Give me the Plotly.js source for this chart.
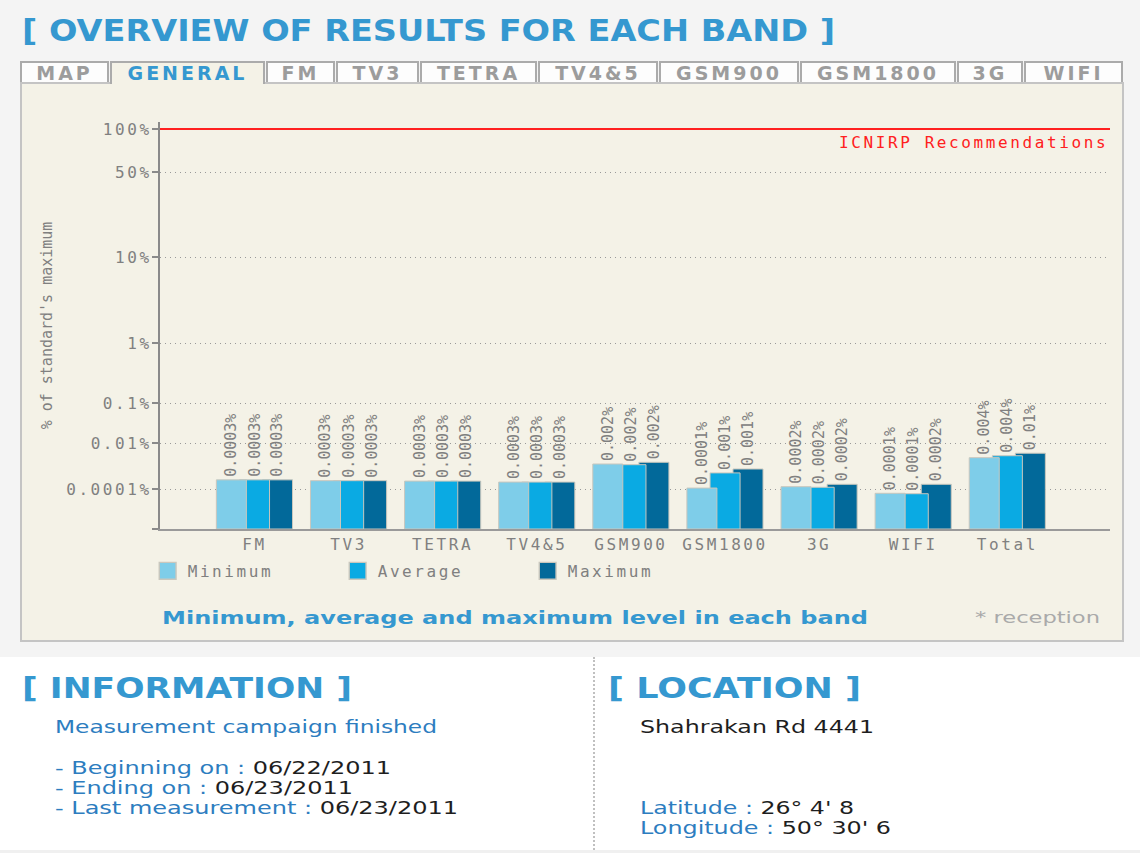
<!DOCTYPE html>
<html>
<head>
<meta charset="utf-8">
<script src="https://cdn.plot.ly/plotly-3.0.1.min.js"></script>
<style>
body { margin: 0; background: #fff; font-family: "DejaVu Sans", sans-serif; }
#page { position: relative; width: 1140px; height: 853px; overflow: hidden; background: #fff; }
#top { position: absolute; left: 0; top: 0; width: 1140px; height: 657px; background: #f4f4f4; }
#bottomline { position: absolute; left: 0; top: 850px; width: 1140px; height: 3px; background: #f0f0f0; }
.txt { position: absolute; white-space: nowrap; transform-origin: 0 50%; }
.head { font-weight: bold; color: #3598d0; }
.tab { position: absolute; top: 61px; height: 19px; line-height: 21px; box-sizing: content-box;
       border: 2px solid #ababab; border-bottom: none; background: #fdfdfd;
       font-weight: bold; font-size: 19px; letter-spacing: 3px; color: #9c9c9c; text-align: center; }
.tab.on { background: #f4f2e7; color: #3598d0; height: 21px; z-index: 3; }
#panel { position: absolute; left: 20px; top: 82px; width: 1100px; height: 556px;
         background: #f4f2e7; border: 2px solid #c4c4c4; }
#chart { position: absolute; left: 21px; top: 83px; width: 1102px; height: 556px; }
/* wide text of the original; unscoped so plotly's measuring copy gets it too */
.xtick text, .ytick text, .legendtext, .annotation-text { letter-spacing: 2.6px; }
#chart .legendpoints path { transform: translate(20px, 0px) scale(1.4); }
.blue { color: #2d7dbf; }
.dark { color: #1e1e1e; }
.body { font-size: 17px; line-height: 20px; }
#divider { position: absolute; left: 593px; top: 657px; height: 193px; border-left: 2px dotted #c0c0c0; }
</style>
</head>
<body>
<div id="page">
  <div id="top"></div>
  <div id="bottomline"></div>
  <div class="txt head" data-w="813" style="left:22px; top:11px; font-size:31px; line-height:38px;">[ OVERVIEW OF RESULTS FOR EACH BAND ]</div>
  <div id="tabs"></div>
  <div id="panel"></div>
  <div id="chart"></div>
  <div class="txt head" data-w="706" style="left:162px; top:606px; font-size:18px; line-height:24px;">Minimum, average and maximum level in each band</div>
  <div class="txt" data-w="125" style="left:975px; top:607px; font-size:16px; line-height:22px; color:#aaa;">* reception</div>

  <div class="txt head" data-w="330" style="left:22px; top:670px; font-size:29px; line-height:36px;">[ INFORMATION ]</div>
  <div class="txt body blue" data-w="382" style="left:55px; top:717px;">Measurement campaign finished</div>
  <div class="txt body" data-w="336" style="left:55px; top:758px;"><span class="blue">- Beginning on :</span> <span class="dark">06/22/2011</span></div>
  <div class="txt body" data-w="298" style="left:55px; top:778px;"><span class="blue">- Ending on :</span> <span class="dark">06/23/2011</span></div>
  <div class="txt body" data-w="403" style="left:55px; top:798px;"><span class="blue">- Last measurement :</span> <span class="dark">06/23/2011</span></div>

  <div id="divider"></div>
  <div class="txt head" data-w="253" style="left:608px; top:670px; font-size:29px; line-height:36px;">[ LOCATION ]</div>
  <div class="txt body dark" data-w="234" style="left:640px; top:717px;">Shahrakan Rd 4441</div>
  <div class="txt body" data-w="214" style="left:640px; top:798px;"><span class="blue">Latitude :</span> <span class="dark">26° 4' 8</span></div>
  <div class="txt body" data-w="251" style="left:640px; top:818px;"><span class="blue">Longitude :</span> <span class="dark">50° 30' 6</span></div>
</div>
<script>
// tabs above the panel
var tabNames = ['MAP', 'GENERAL', 'FM', 'TV3', 'TETRA', 'TV4&5', 'GSM900', 'GSM1800', '3G', 'WIFI'];
var tabEdges = [20, 110, 266, 336, 420, 538, 659, 800, 957, 1024, 1124];
var tabsDiv = document.getElementById('tabs');
for (var t = 0; t < tabNames.length; t++) {
  var d = document.createElement('div');
  d.className = 'tab' + (tabNames[t] == 'GENERAL' ? ' on' : '');
  d.style.left = tabEdges[t] + 'px';
  d.style.width = (tabEdges[t + 1] - tabEdges[t] - 5) + 'px';
  d.textContent = tabNames[t];
  tabsDiv.appendChild(d);
}

// chart data (% of standard's maximum)
var bands = ['FM', 'TV3', 'TETRA', 'TV4&5', 'GSM900', 'GSM1800', '3G', 'WIFI', 'Total'];
var minValues = [0.00025, 0.00023, 0.00022, 0.0002, 0.00122, 0.00011, 0.000126, 0.000061, 0.0023];
var avgValues = [0.00025, 0.00023, 0.00022, 0.0002, 0.00114, 0.0005, 0.000119, 0.000058, 0.0028];
var maxValues = [0.00025, 0.00023, 0.00022, 0.0002, 0.00145, 0.00074, 0.00016, 0.00016, 0.0036];
var minLabels = ['0.0003%', '0.0003%', '0.0003%', '0.0003%', '0.002%', '0.0001%', '0.0002%', '0.0001%', '0.004%'];
var avgLabels = ['0.0003%', '0.0003%', '0.0003%', '0.0003%', '0.002%', '0.001%', '0.0002%', '0.0001%', '0.004%'];
var maxLabels = ['0.0003%', '0.0003%', '0.0003%', '0.0003%', '0.002%', '0.001%', '0.0002%', '0.0002%', '0.01%'];

// the chart's own uneven scale: value -> position, log-interpolated between these marks
var scaleVals = [0.000001, 0.0001, 0.01, 0.1, 1, 10, 50, 100];
var scalePos = [0, 40, 86, 126, 186, 272, 357, 400];
var tickLabels = ['', '0.0001%', '0.01%', '0.1%', '1%', '10%', '50%', '100%'];

function toPos(v) {
  var lv = Math.log10(v);
  for (var i = 1; i < scaleVals.length; i++) {
    var a = Math.log10(scaleVals[i - 1]);
    var b = Math.log10(scaleVals[i]);
    if (lv <= b) {
      return scalePos[i - 1] + (lv - a) / (b - a) * (scalePos[i] - scalePos[i - 1]);
    }
  }
  return scalePos[scalePos.length - 1];
}

var mono = 'DejaVu Sans Mono, monospace';

function barTrace(name, vals, labels, color, offset) {
  return {
    type: 'bar',
    name: name,
    x: bands,
    y: vals.map(toPos),
    text: labels,
    textposition: 'outside',
    textangle: -90,
    constraintext: 'none',
    cliponaxis: false,
    textfont: {family: mono, size: 15, color: '#808080'},
    width: 0.319,
    offset: offset,
    marker: {color: color, line: {color: '#c9c7bd', width: 1}}
  };
}

// maximum first so the minimum bar sits on top, legend reversed back
var data = [
  barTrace('Maximum', maxValues, maxLabels, '#02699a', 0.085),
  barTrace('Average', avgValues, avgLabels, '#0aaae3', -0.159),
  barTrace('Minimum', minValues, minLabels, '#7ecde9', -0.405)
];

var layout = {
  width: 1102,
  height: 556,
  margin: {l: 139, r: 13, t: 39, b: 110},
  paper_bgcolor: 'rgba(0,0,0,0)',
  plot_bgcolor: 'rgba(0,0,0,0)',
  barmode: 'overlay',
  font: {family: mono, size: 16, color: '#808080'},
  showlegend: true,
  legend: {
    orientation: 'h',
    traceorder: 'reversed',
    x: -0.013, xanchor: 'left',
    y: -0.103, yanchor: 'middle',
    entrywidth: 145,
    entrywidthmode: 'pixels',
    bgcolor: 'rgba(0,0,0,0)',
    font: {family: mono, size: 16, color: '#808080'}
  },
  xaxis: {
    type: 'category',
    range: [-1.004, 9.091],
    showline: true,
    linecolor: '#9a9a9a',
    linewidth: 2,
    showgrid: false,
    ticks: '',
    tickfont: {family: mono, size: 16, color: '#808080'}
  },
  yaxis: {
    range: [0, 407],
    tickmode: 'array',
    tickvals: scalePos,
    ticktext: tickLabels,
    showline: true,
    linecolor: '#8a8a8a',
    linewidth: 2,
    ticks: 'outside',
    ticklen: 6,
    tickwidth: 1.5,
    tickcolor: '#8a8a8a',
    ticklabelstandoff: -3,
    showgrid: true,
    gridcolor: '#999999',
    griddash: '1px,4px',
    gridwidth: 1,
    zeroline: false,
    tickfont: {family: mono, size: 16, color: '#808080'},
    title: {text: "% of standard's maximum", standoff: 10, font: {family: mono, size: 15, color: '#808080'}}
  },
  shapes: [{
    type: 'line', xref: 'paper', x0: 0, x1: 1, yref: 'y', y0: 400, y1: 400,
    line: {color: '#ff2020', width: 2}
  }],
  annotations: [{
    xref: 'paper', x: 1, xanchor: 'right',
    yref: 'y', y: 400, yanchor: 'top', yshift: -2,
    text: 'ICNIRP Recommendations', showarrow: false,
    font: {family: mono, size: 16, color: '#ff2020'}
  }]
};

Plotly.newPlot('chart', data, layout, {staticPlot: true, displayModeBar: false});

// stretch the page texts sideways to the widths they have in the original
function fitWidths() {
  var els = document.querySelectorAll('[data-w]');
  els.forEach(function(el) {
    el.style.transform = 'none';
    var w = el.getBoundingClientRect().width;
    var target = +el.getAttribute('data-w');
    el.style.transform = 'scaleX(' + (target / w) + ')';
  });
}
fitWidths();
</script>
</body>
</html>
